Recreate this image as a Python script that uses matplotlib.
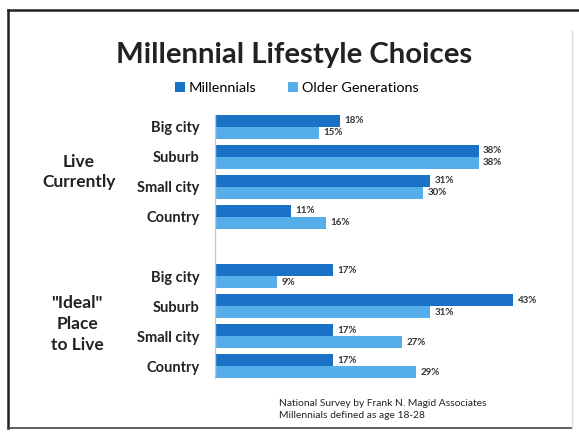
import matplotlib
matplotlib.use('Agg')
from matplotlib import pyplot as plt
from matplotlib.lines import Line2D

# data
places = ['Big city', 'Suburb', 'Small city', 'Country']
live_millennials = [18, 38, 31, 11]
live_older = [15, 38, 30, 16]
ideal_millennials = [17, 43, 17, 17]
ideal_older = [9, 31, 27, 29]
group_titles = ['Live\nCurrently', '"Ideal"\nPlace\nto Live']
series_names = ['Millennials', 'Older Generations']
footnote = 'National Survey by Frank N. Magid Associates\nMillennials defined as age 18-28'

dark_blue = '#1a72c6'
light_blue = '#55adea'
font = 'Lato'

W, H = 579, 432


def main():
    fig = plt.figure(figsize=(W / 100, H / 100), dpi=100)
    fig.patch.set_facecolor('white')

    ax = fig.add_axes([215 / W, 1 - 378 / H, 347 / W, 263 / H])

    # two blocks of four categories with an empty slot between them
    pos = [0, 1, 2, 3, 5, 6, 7, 8]
    mill = live_millennials + ideal_millennials
    older = live_older + ideal_older
    h = 0.4
    b1 = ax.barh([p - h / 2 for p in pos], mill, height=h, color=dark_blue, label=series_names[0])
    b2 = ax.barh([p + h / 2 for p in pos], older, height=h, color=light_blue, label=series_names[1])

    for p, v in zip(pos, mill):
        ax.text(v + 0.6, p - h / 2, f'{v}%', va='center', ha='left', fontsize=7,
                fontweight='bold', color='#333333', family=font)
    for p, v in zip(pos, older):
        ax.text(v + 0.6, p + h / 2, f'{v}%', va='center', ha='left', fontsize=7,
                fontweight='bold', color='#333333', family=font)

    ax.set_xlim(0, 50)
    ax.set_ylim(8.4, -0.4)
    ax.set_yticks(pos)
    ax.set_yticklabels(places + places, fontsize=10.5, fontweight='bold', family=font, color='#222222')
    ax.tick_params(axis='y', length=0, pad=11)
    ax.set_xticks([])
    for s in ['top', 'right', 'bottom']:
        ax.spines[s].set_visible(False)
    ax.spines['left'].set_color('#c8c8c8')
    ax.spines['left'].set_linewidth(1.0)

    # group labels at the far left
    fig.text(79 / W, 1 - 172 / H, group_titles[0], ha='center', va='center', fontsize=12.5,
             fontweight='bold', family=font, color='#222222', linespacing=1.35)
    fig.text(77 / W, 1 - 324 / H, group_titles[1], ha='center', va='center', fontsize=12.5,
             fontweight='bold', family=font, color='#222222', linespacing=1.35)

    fig.text(294.5 / W, 1 - 63 / H, 'Millennial Lifestyle Choices', ha='center', va='baseline',
             fontsize=21.2, fontweight='bold', family=font, color='#222222')

    fig.legend(handles=[b1, b2], loc='center', bbox_to_anchor=(296.5 / W, 1 - 88 / H), ncol=2,
               frameon=False, prop={'family': font, 'size': 10.4}, handlelength=0.7,
               handleheight=0.7, handletextpad=0.25, columnspacing=2.2)

    fig.text(279 / W, 1 - 409.5 / H, footnote, ha='left', va='center', fontsize=7.4,
             family=font, color='#222222', linespacing=1.45)

    # slide frame
    fig.add_artist(Line2D([8 / W, 8 / W], [1 - 10 / H, 1 - 428 / H], color='#222222', lw=1.8,
                          transform=fig.transFigure))
    fig.add_artist(Line2D([8 / W, 1.0], [1 - 10 / H, 1 - 10 / H], color='#222222', lw=1.8,
                          transform=fig.transFigure))
    fig.add_artist(Line2D([8 / W, 572 / W], [1 - 428 / H, 1 - 428 / H], color='#444444', lw=1.2,
                          transform=fig.transFigure))
    fig.add_artist(Line2D([572 / W, 572 / W], [1 - 30 / H, 1 - 428 / H], color='#dddddd', lw=1.0,
                          transform=fig.transFigure))

    fig.savefig('out.png', dpi=100)


if (__name__ == '__main__'):
    main()
